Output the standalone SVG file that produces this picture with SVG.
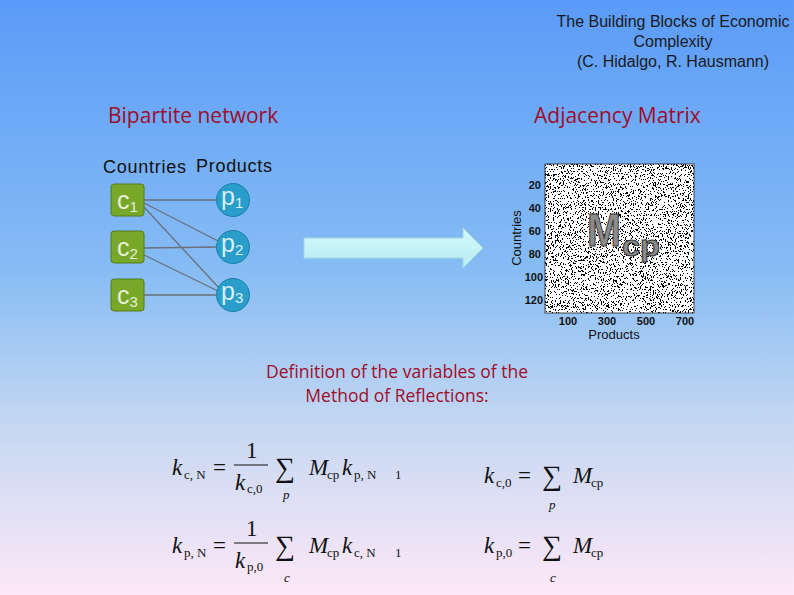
<svg xmlns="http://www.w3.org/2000/svg" width="794" height="595" viewBox="0 0 794 595">
<style>
.title{font-family:"Liberation Sans",Arial,sans-serif;font-size:16px;fill:#1a1a1a;text-anchor:middle}
.red{font-family:"Open Sans","Liberation Sans",sans-serif;fill:#9e0d2a}
.h2{font-size:21px}
.def{font-size:17.5px}
.hdr{font-family:"Liberation Sans",Arial,sans-serif;font-size:18px;fill:#111}
.node-lbl{font-family:"Liberation Sans",Arial,sans-serif;fill:#e8f0d8}
.plbl{font-family:"Liberation Sans",Arial,sans-serif;fill:#d8f0f8}
.edge{stroke:#6a6f7a;stroke-width:1.3;fill:none}
.tick{font-family:"Liberation Sans",Arial,sans-serif;font-size:11px;font-weight:bold;fill:#111}
.ax{font-family:"Liberation Sans",Arial,sans-serif;font-size:13px;fill:#111}
.m{font-family:"Liberation Serif","Times New Roman",serif;fill:#111}
.it{font-style:italic}
.big{font-size:23px}
.sub{font-size:13px}
.sig{font-size:28px}
</style>
<defs>
<linearGradient id="bg" x1="0" y1="0" x2="0" y2="1">
<stop offset="0" stop-color="#5a9bf8"/>
<stop offset="0.45" stop-color="#86bcf4"/>
<stop offset="0.72" stop-color="#c6d8f2"/>
<stop offset="1" stop-color="#fde8f8"/>
</linearGradient>
<linearGradient id="arr" x1="0" y1="0" x2="0" y2="1">
<stop offset="0" stop-color="#d4fafa"/>
<stop offset="1" stop-color="#b6ecf2"/>
</linearGradient>
<filter id="noise" filterUnits="userSpaceOnUse" x="545" y="164" width="149" height="149">
<feTurbulence type="fractalNoise" baseFrequency="1.4 0.55" numOctaves="2" seed="7" result="t"/>
<feComponentTransfer in="t" result="a">
<feFuncR type="discrete" tableValues="0 0 0 0 0 0 0 0 1 1 1 1 1 1 1 1 1 1 1 1"/>
</feComponentTransfer>
<feColorMatrix in="a" type="matrix" values="0 0 0 0 0  0 0 0 0 0  0 0 0 0 0  -1 0 0 0 1"/>
</filter>
</defs>
<rect width="794" height="595" fill="url(#bg)"/>

<g id="title">
<text class="title" x="673" y="27">The Building Blocks of Economic</text>
<text class="title" x="673" y="47">Complexity</text>
<text class="title" x="673" y="67">(C. Hidalgo, R. Hausmann)</text>
</g>

<text class="red h2" x="108" y="123">Bipartite network</text>
<text class="red h2" x="534" y="123">Adjacency Matrix</text>

<g id="headers">
<text class="hdr" x="103" y="173" textLength="83">Countries</text>
<text class="hdr" x="196" y="172" textLength="76">Products</text>
</g>

<g id="connectors">
<line class="edge" x1="144" y1="200" x2="216" y2="200"/>
<line class="edge" x1="144" y1="203" x2="218" y2="241"/>
<line class="edge" x1="144" y1="207" x2="220" y2="289"/>
<line class="edge" x1="144" y1="248" x2="216" y2="247"/>
<line class="edge" x1="144" y1="255" x2="218" y2="291"/>
<line class="edge" x1="144" y1="295" x2="216" y2="295"/>
</g>

<g id="c1"><rect x="111" y="184" width="33" height="32" rx="3" fill="#78a82a" stroke="#557d18"/><text class="node-lbl" x="117" y="209" font-size="25">c<tspan font-size="15" dy="3">1</tspan></text></g>
<g id="c2"><rect x="111" y="231" width="33" height="32" rx="3" fill="#78a82a" stroke="#557d18"/><text class="node-lbl" x="117" y="256" font-size="25">c<tspan font-size="15" dy="3">2</tspan></text></g>
<g id="c3"><rect x="111" y="279" width="33" height="32" rx="3" fill="#78a82a" stroke="#557d18"/><text class="node-lbl" x="117" y="304" font-size="25">c<tspan font-size="15" dy="3">3</tspan></text></g>

<g id="p1"><circle cx="233" cy="200" r="16.5" fill="#2a9ecb" stroke="#1a7faa"/><text class="plbl" x="221" y="205" font-size="25">p<tspan font-size="15" dy="3">1</tspan></text></g>
<g id="p2"><circle cx="233" cy="247" r="16.5" fill="#2a9ecb" stroke="#1a7faa"/><text class="plbl" x="221" y="252" font-size="25">p<tspan font-size="15" dy="3">2</tspan></text></g>
<g id="p3"><circle cx="233" cy="295" r="16.5" fill="#2a9ecb" stroke="#1a7faa"/><text class="plbl" x="221" y="300" font-size="25">p<tspan font-size="15" dy="3">3</tspan></text></g>

<g id="arrow">
<path d="M304,238 H463 V228 L483,248 L463,268 V258 H304 Z" fill="url(#arr)" stroke="#a4d6e6" stroke-width="1"/>
</g>

<g id="matrix">
<rect x="545" y="164" width="149" height="149" fill="#ffffff"/>
<rect x="545" y="164" width="149" height="149" fill="#000" filter="url(#noise)"/>
<rect x="545" y="164" width="149" height="149" fill="none" stroke="#222" stroke-width="0.8"/>
<text x="587" y="246" font-family="Liberation Sans,Arial,sans-serif" font-weight="bold" font-size="46" textLength="34" lengthAdjust="spacingAndGlyphs" fill="#8c8c8c" stroke="#333" stroke-width="1">M</text>
<text x="622" y="256" font-family="Liberation Sans,Arial,sans-serif" font-weight="bold" font-size="30" textLength="38" lengthAdjust="spacingAndGlyphs" fill="#8c8c8c" stroke="#333" stroke-width="1">cp</text>
<g text-anchor="end">
<text class="tick" x="541" y="189">20</text>
<text class="tick" x="541" y="212">40</text>
<text class="tick" x="541" y="235">60</text>
<text class="tick" x="541" y="258">80</text>
<text class="tick" x="543" y="281">100</text>
<text class="tick" x="543" y="304">120</text>
</g>
<g text-anchor="middle">
<text class="tick" x="568" y="325">100</text>
<text class="tick" x="607" y="325">300</text>
<text class="tick" x="646" y="325">500</text>
<text class="tick" x="685" y="325">700</text>
<text class="ax" x="614" y="339">Products</text>
<text class="ax" transform="translate(521,238) rotate(-90)">Countries</text>
</g>
</g>

<g id="definition" text-anchor="middle">
<text class="red def" x="397" y="378">Definition of the variables of the</text>
<text class="red def" x="397" y="402">Method of Reflections:</text>
</g>

<g id="eq1" class="m">
<text class="big it" x="172" y="475">k</text>
<text class="sub" x="184" y="479">c, N</text>
<text class="big" x="213" y="475">=</text>
<text class="big" x="246" y="458">1</text>
<line x1="234" y1="465" x2="268" y2="465" stroke="#111" stroke-width="1.2"/>
<text class="big it" x="235" y="490">k</text>
<text class="sub" x="247" y="493" font-size="12">c,0</text>
<text class="sig" x="275" y="477">∑</text>
<text class="sub it" x="283" y="499">p</text>
<text class="big it" x="309" y="475" font-size="20">M</text>
<text class="sub" x="327" y="479">cp</text>
<text class="big it" x="342" y="475">k</text>
<text class="sub" x="354" y="479">p, N</text>
<text class="sub" x="395" y="479" font-size="11">1</text>
</g>

<g id="eq2" class="m">
<text class="big it" x="172" y="553">k</text>
<text class="sub" x="184" y="557">p, N</text>
<text class="big" x="213" y="553">=</text>
<text class="big" x="246" y="536">1</text>
<line x1="234" y1="543" x2="268" y2="543" stroke="#111" stroke-width="1.2"/>
<text class="big it" x="235" y="568">k</text>
<text class="sub" x="247" y="571" font-size="12">p,0</text>
<text class="sig" x="275" y="555">∑</text>
<text class="sub it" x="284" y="582">c</text>
<text class="big it" x="309" y="553" font-size="20">M</text>
<text class="sub" x="327" y="557">cp</text>
<text class="big it" x="342" y="553">k</text>
<text class="sub" x="354" y="557">c, N</text>
<text class="sub" x="395" y="557" font-size="11">1</text>
</g>

<g id="eq3" class="m">
<text class="big it" x="484" y="483">k</text>
<text class="sub" x="496" y="487">c,0</text>
<text class="big" x="518" y="483">=</text>
<text class="sig" x="542" y="485">∑</text>
<text class="sub it" x="549" y="509">p</text>
<text class="big it" x="573" y="483" font-size="20">M</text>
<text class="sub" x="591" y="487">cp</text>
</g>

<g id="eq4" class="m">
<text class="big it" x="484" y="553">k</text>
<text class="sub" x="496" y="557">p,0</text>
<text class="big" x="518" y="553">=</text>
<text class="sig" x="542" y="555">∑</text>
<text class="sub it" x="550" y="582">c</text>
<text class="big it" x="573" y="553" font-size="20">M</text>
<text class="sub" x="591" y="557">cp</text>
</g>
</svg>
